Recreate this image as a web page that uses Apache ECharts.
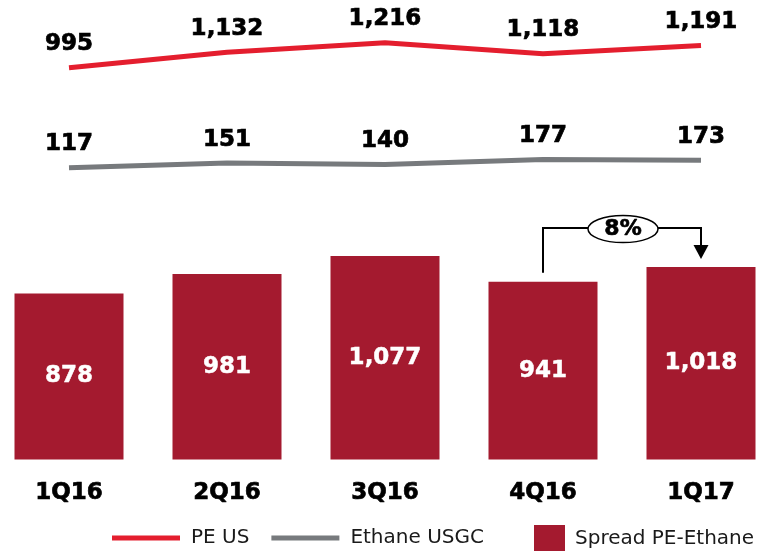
<!DOCTYPE html>
<html>
<head>
<meta charset="utf-8">
<script src="https://cdn.jsdelivr.net/npm/echarts@6/dist/echarts.min.js"></script>
<style>
  html, body { margin: 0; padding: 0; background: #fff; }
  #chart { width: 759px; height: 551px; }
</style>
</head>
<body>
<div id="chart"></div>
<script>
// data
const quarters = ['1Q16', '2Q16', '3Q16', '4Q16', '1Q17']
const peUS = [995, 1132, 1216, 1118, 1191]
const ethaneUSGC = [117, 151, 140, 177, 173]
const spread = [878, 981, 1077, 941, 1018]
const growthLabel = '8%'

const RED = '#e41e2e'
const GREY = '#777a7d'
const BAR = '#a41a2f'
const FONT = 'DejaVu Sans'

const fmt = p => Number(p.value).toLocaleString('en-US')

// bold numbers, slightly thickened to look like the heavy original face
const numLabel = {
  show: true,
  position: 'top',
  distance: 12,
  color: '#000',
  textBorderColor: '#000',
  textBorderWidth: 0.7,
  fontFamily: FONT,
  fontWeight: 'bold',
  fontSize: 23,
  formatter: fmt
}

const hiddenY = (min, max) => ({
  type: 'value', min: min, max: max, show: false,
  splitLine: { show: false }
})

let chart = echarts.init(document.getElementById('chart'))

let option = {
  animation: false,
  // categories sit on the ticks, 158px apart, first at x=69
  grid: { left: 69, right: 58, top: 0, bottom: 91.5 },
  xAxis: {
    type: 'category',
    data: quarters,
    boundaryGap: false,
    axisLine: { show: false },
    axisTick: { show: false },
    axisLabel: {
      margin: 22,
      color: '#000',
      textBorderColor: '#000',
      textBorderWidth: 0.7,
      fontFamily: FONT,
      fontWeight: 'bold',
      fontSize: 23
    }
  },
  yAxis: [
    hiddenY(0, 2431),
    hiddenY(-2469, 1594),
    hiddenY(-2044, 1359)
  ],
  legend: [
    {
      data: ['PE US', 'Ethane USGC'],
      left: 112, top: 527, padding: 0,
      icon: 'rect', itemWidth: 68, itemHeight: 5, itemGap: 22,
      textStyle: { fontFamily: FONT, fontSize: 20, lineHeight: 22, color: '#1a1a1a', padding: [0, 0, 0, 6] }
    },
    {
      data: ['Spread PE-Ethane'],
      left: 534, top: 525, padding: 0,
      icon: 'rect', itemWidth: 31, itemHeight: 27,
      textStyle: { fontFamily: FONT, fontSize: 20, lineHeight: 22, color: '#1a1a1a', padding: [0, 0, 0, 5] }
    }
  ],
  series: [
    {
      name: 'Spread PE-Ethane',
      type: 'bar',
      data: spread,
      yAxisIndex: 0,
      barWidth: 109,
      clip: false,
      itemStyle: { color: BAR },
      label: Object.assign({}, numLabel, { position: 'inside', color: '#fff', textBorderColor: '#fff', textBorderWidth: 0.5 })
    },
    {
      name: 'PE US',
      type: 'line',
      data: peUS,
      yAxisIndex: 1,
      symbol: 'circle',
      symbolSize: 0,
      clip: false,
      lineStyle: { color: RED, width: 5 },
      itemStyle: { color: RED },
      label: numLabel
    },
    {
      name: 'Ethane USGC',
      type: 'line',
      data: ethaneUSGC,
      yAxisIndex: 2,
      symbol: 'circle',
      symbolSize: 0,
      clip: false,
      lineStyle: { color: GREY, width: 5 },
      itemStyle: { color: GREY },
      label: numLabel
    }
  ]
}

chart.setOption(option)

// growth bracket between the last two bars, placed from the bar scale
const from = chart.convertToPixel({ xAxisIndex: 0, yAxisIndex: 0 }, [3, spread[3]])
const to = chart.convertToPixel({ xAxisIndex: 0, yAxisIndex: 0 }, [4, spread[4]])
const yTop = to[1] - 39
const midX = (from[0] + to[0]) / 2 + 1
const stroke = { stroke: '#000', lineWidth: 2, fill: null }

chart.setOption({
  graphic: [
    { type: 'polyline', shape: { points: [[from[0], from[1] - 9], [from[0], yTop], [to[0], yTop], [to[0], to[1] - 20]] }, style: stroke },
    { type: 'polygon', shape: { points: [[to[0] - 7.5, to[1] - 22], [to[0] + 7.5, to[1] - 22], [to[0], to[1] - 8]] }, style: { fill: '#000' } },
    { type: 'ellipse', shape: { cx: midX, cy: yTop + 1, rx: 35, ry: 13.5 }, style: { fill: '#fff', stroke: '#000', lineWidth: 1.5 } },
    { type: 'text', x: midX, y: yTop + 1, style: { text: growthLabel, fill: '#000', stroke: '#000', lineWidth: 0.7, font: 'bold 22px "DejaVu Sans"', align: 'center', verticalAlign: 'middle' } }
  ]
})
</script>
</body>
</html>
